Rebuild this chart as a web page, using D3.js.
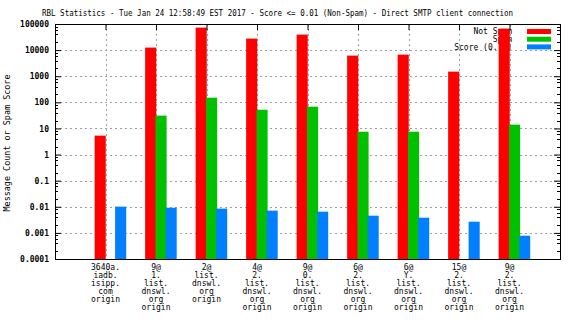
<!DOCTYPE html>
<html><head><meta charset="utf-8">
<script src="https://cdn.jsdelivr.net/npm/d3@7"></script>
<style>
body{margin:0;background:#fff;}
text{font-family:"DejaVu Sans Mono",monospace;font-size:8px;fill:#000;}
</style></head><body>
<svg id="c" width="576" height="324"></svg>
<script>
const categories = [
  ["3640a.","iadb.","isipp.","com","origin"],
  ["9@","1.","list.","dnswl.","org","origin"],
  ["2@","list.","dnswl.","org","origin"],
  ["4@","2.","list.","dnswl.","org","origin"],
  ["9@","0.","list.","dnswl.","org","origin"],
  ["6@","2.","list.","dnswl.","org","origin"],
  ["6@","Y.","list.","dnswl.","org","origin"],
  ["15@","2.","list.","dnswl.","org","origin"],
  ["9@","2.","list.","dnswl.","org","origin"]
];
const notSpam = [5.3, 12500, 72800, 27600, 39300, 6160, 6700, 1500, 66700];
const spam = [null, 31, 151, 52, 68, 7.5, 7.5, null, 14];
const score = [0.0101, 0.0092, 0.0085, 0.0071, 0.0065, 0.00456, 0.00382, 0.00269, 0.00078];
const seriesNames = ["Not Spam", "Spam", "Score (0..1)"];
const seriesColors = ["#ff0000", "#00c000", "#0080ff"];
const yTicks = [1e5,1e4,1e3,100,10,1,0.1,0.01,0.001,0.0001];
const yTickLabels = ["100000","10000","1000","100","10","1","0.1","0.01","0.001","0.0001"];
const title = "RBL Statistics - Tue Jan 24 12:58:49 EST 2017 - Score <= 0.01 (Non-Spam) - Direct SMTP client connection";
const yLabel = "Message Count or Spam Score";

const svg = d3.select("#c");
const L=55, R=560, T=24, B=259;
const x = d3.scaleLinear().domain([-1, 9]).range([L, R]);
const y = d3.scaleLog().domain([1e-4, 1e5]).range([B, T]);
const series = [notSpam, spam, score];
const offsets = [-0.105, 0.1, 0.3];
const bw = 0.22;

const minor = [];
for (let e=-4; e<5; e++) for (const m of [2,4,6,8]) minor.push(m*Math.pow(10,e));

const grid = svg.append("g").attr("stroke","#a0a0a0").attr("stroke-dasharray","2,3").attr("stroke-width",1);
yTicks.slice(1,-1).forEach(v=>{
  grid.append("line").attr("x1",L).attr("x2",R).attr("y1",Math.round(y(v))+0.5).attr("y2",Math.round(y(v))+0.5);
});
categories.forEach((c,i)=>{
  grid.append("line").attr("x1",Math.round(x(i))+0.5).attr("x2",Math.round(x(i))+0.5).attr("y1",T).attr("y2",B);
});

const lg = svg.append("g");
seriesNames.forEach((n,i)=>{
  const cy = 31.5 + i*7.7;
  lg.append("text").attr("x",512).attr("y",cy).attr("dy","0.35em").attr("text-anchor","end").text(n);
  lg.append("rect").attr("x",527).attr("y",cy-2.5).attr("width",24).attr("height",5).attr("fill",seriesColors[i]);
});

series.forEach((vals,s)=>{
  svg.append("g").selectAll("rect").data(vals.map((v,i)=>({v,i})).filter(d=>d.v!=null))
    .join("rect")
    .attr("x",d=>x(d.i+offsets[s]-bw/2))
    .attr("width",x(bw)-x(0))
    .attr("y",d=>y(d.v))
    .attr("height",d=>B-y(d.v))
    .attr("fill",seriesColors[s]);
});

svg.append("g").attr("transform",`translate(${L},0)`)
  .call(d3.axisLeft(y).tickValues(yTicks).tickFormat((d,i)=>yTickLabels[i]).tickSize(-6).tickPadding(6).tickSizeOuter(0));
svg.append("g").attr("transform",`translate(${R},0)`)
  .call(d3.axisRight(y).tickValues(yTicks).tickFormat("").tickSize(-6).tickSizeOuter(0));
[L,R].forEach((px,k)=>{
  const g = svg.append("g").attr("stroke","#000");
  minor.forEach(v=>{
    const yy=Math.round(y(v))+0.5;
    g.append("line").attr("x1",px).attr("x2",px+(k?-3:3)).attr("y1",yy).attr("y2",yy);
  });
});
svg.append("g").attr("transform",`translate(0,${T})`)
  .call(d3.axisTop(x).tickValues(d3.range(categories.length)).tickFormat("").tickSize(-6).tickSizeOuter(0));
svg.selectAll(".domain").remove();
svg.selectAll(".tick line").attr("stroke","#000");
svg.selectAll(".tick text").style("font-family",'"DejaVu Sans Mono",monospace').style("font-size","8px").style("font-weight","bold").attr("fill","#000");
svg.append("rect").attr("x",L+0.5).attr("y",T+0.5).attr("width",R-L).attr("height",B-T)
  .attr("fill","none").attr("stroke","#000").attr("stroke-width",1);

const xl = svg.append("g");
categories.forEach((lines,i)=>{
  const t = xl.append("text").attr("text-anchor","middle");
  lines.forEach((ln,j)=>{
    t.append("tspan").attr("x",x(i)).attr("y",267+j*8).attr("dy","0.35em").text(ln);
  });
});

svg.append("text").attr("x",42).attr("y",13).attr("dy","0.35em").style("font-size","8.5px")
  .attr("textLength",471).attr("lengthAdjust","spacingAndGlyphs").text(title);
svg.append("text").attr("transform","translate(7,143) rotate(-90)").attr("text-anchor","middle").attr("dy","0.35em").style("font-size","8.5px")
  .attr("textLength",137).attr("lengthAdjust","spacingAndGlyphs").text(yLabel);
</script></body></html>
